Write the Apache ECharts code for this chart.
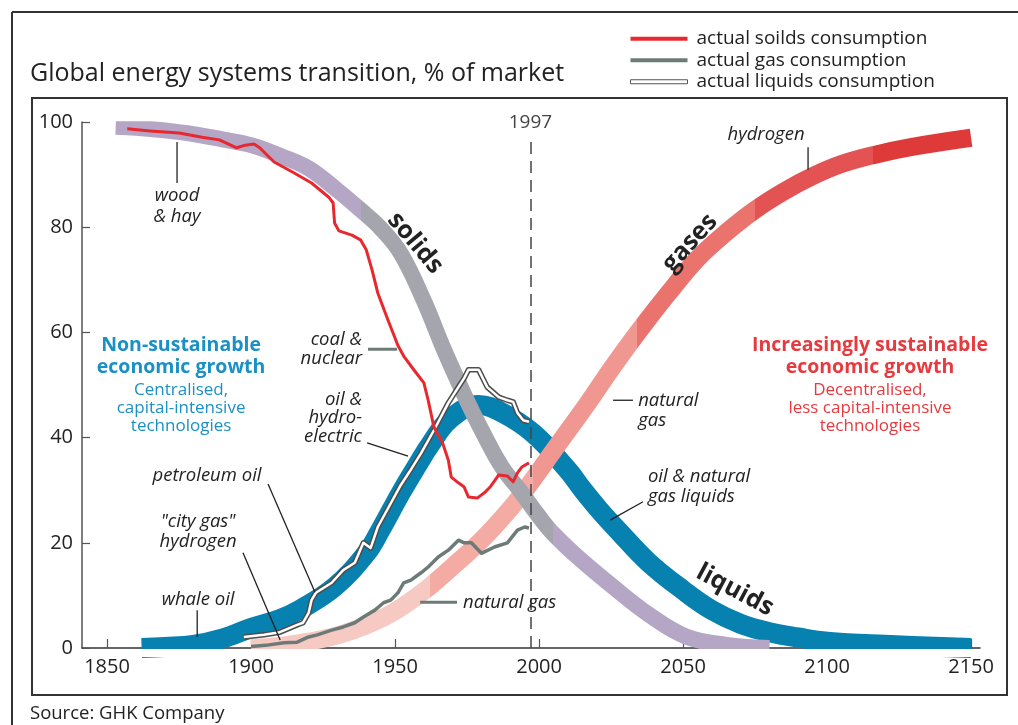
<!DOCTYPE html>
<html>
<head>
<meta charset="utf-8">
<script src="https://cdn.jsdelivr.net/npm/echarts@6/dist/echarts.min.js"></script>
<style>
html,body{margin:0;padding:0;background:#fff;}
#chart{width:1018px;height:725px;}
</style>
</head>
<body>
<div id="chart"></div>
<script>
// ---------- data (year, % of market) ----------
const xTickYears = [1850, 1900, 1950, 2000, 2050, 2100, 2150];

const solidsBand = [[1853,99.1],[1860,98.9],[1870,98.4],[1880,97.7],[1890,96.7],[1900,95.6],[1910,93.6],[1920,91.2],[1930,87],[1938,83.3],[1945,79.8],[1952,75],[1960,66],[1967,56.7],[1975,47],[1980,41.5],[1987,34.5],[1994,29.5],[2000,25],[2005,21.7],[2014,17],[2026,11.5],[2038,6.4],[2051,2.2],[2065,0.6],[2080,0]];

const liquidsBand = [[1862,0],[1870,0.2],[1880,0.6],[1890,1.8],[1900,3.8],[1910,5.5],[1917,7.3],[1929,11.6],[1940,18],[1945,22.5],[1952,29.5],[1958,35],[1962,38.5],[1969,43.5],[1979,46.2],[1987,44.8],[1998,40.8],[2010,33.8],[2015,30.2],[2021,26.2],[2028,22],[2038,16.3],[2050,11],[2060,7.2],[2070,4.6],[2080,3],[2090,2],[2100,1.2],[2120,0.6],[2150,0]];

const gasesBand = [[1900,0],[1910,0.4],[1920,1.2],[1930,2.4],[1940,4.3],[1950,7],[1960,10.8],[1970,15.5],[1980,20.5],[1990,26.5],[1997,31.4],[2005,37.5],[2017,46.6],[2025,53],[2035,60.5],[2045,67.5],[2055,74],[2065,79],[2075,83.3],[2085,86.8],[2095,89.7],[2105,92],[2116,93.7],[2130,95.3],[2150,97]];

const solidsActual = [[1857,98.7],[1865,98.3],[1875,97.9],[1883,97.1],[1889,96.6],[1895,95.1],[1898,95.6],[1901,95.8],[1903,95.1],[1908,92.4],[1915,90.3],[1921,88.4],[1927,85.7],[1928.5,84.6],[1929,80.8],[1930.5,79.3],[1935,78.5],[1938,77.6],[1940,75.7],[1942,71.9],[1944,67.5],[1947.5,62.4],[1951,57.5],[1953,55.5],[1956.5,52.9],[1960,50.4],[1961.5,47.1],[1963.5,42],[1966.5,39],[1968.5,35.7],[1969.5,32.5],[1972,31.4],[1974,30.6],[1975.5,28.7],[1978.5,28.5],[1981,29.5],[1983,30.6],[1986,32.9],[1989,32.7],[1991,31.6],[1992.5,33.3],[1994,34.4],[1996.5,35.2]];

const liquidsActual = [[1897.5,2.1],[1904.5,2.5],[1910,3],[1916,4.4],[1918,4.8],[1920,6.7],[1921,9.1],[1922.5,10.5],[1928,12.4],[1932,14.8],[1936,16.2],[1939,20],[1941.5,19],[1944,23],[1948,27],[1952,31],[1955,33.5],[1959,37],[1963.5,41.4],[1968.5,46.6],[1972,49.6],[1974,51.3],[1975.5,52.9],[1979,52.9],[1982,49.6],[1986,47.7],[1989,47.1],[1991,46.8],[1992.5,44.7],[1994.5,43.3],[1996.5,43]];

const gasActual = [[1900,0.3],[1905,0.5],[1911.5,1.0],[1916,1.1],[1920,2.1],[1923,2.5],[1928,3.4],[1932,4],[1936,4.8],[1939,5.9],[1943,7.2],[1946,8.6],[1948.5,9.1],[1951,10.5],[1953,12.4],[1955.5,12.9],[1959,14.3],[1961.5,15.4],[1965,17.3],[1968.5,18.6],[1972,20.5],[1974,20],[1976.5,20],[1980,18],[1984.5,19.2],[1989,20],[1992.5,22.4],[1995,23],[1996.5,22.8]];

const markerYear = 1997;

// ---------- style ----------
const FONT = '"Open Sans", "Noto Sans", sans-serif';
const C_PURPLE = '#b4a6c4', C_GREY = '#a4a5ad', C_BLUE = '#0681b0';
const C_RED = '#e8282e', C_GASLINE = '#6c7b77';

const chart = echarts.init(document.getElementById('chart'), null, {renderer:'canvas'});

const option = {
  animation: false,
  backgroundColor: '#fff',
  grid: {left: 82, top: 122, width: 898, height: 526},
  xAxis: {
    type: 'value', min: 1841.3, max: 2153.1,
    axisLine: {lineStyle: {color: '#333', width: 1.5}},
    axisTick: {inside: true, length: 9, customValues: xTickYears, lineStyle: {color: '#555', width: 1.2}},
    axisLabel: {customValues: xTickYears, fontSize: 20, color: '#222', margin: 9, fontFamily: FONT,
      formatter: v => String(Math.round(v))},
    splitLine: {show: false}
  },
  yAxis: {
    type: 'value', min: 0, max: 100, interval: 20,
    axisLine: {show: true, lineStyle: {color: '#555', width: 1.5}},
    axisTick: {show: true, inside: true, length: 8, lineStyle: {color: '#555', width: 1.2}},
    axisLabel: {fontSize: 20, color: '#222', margin: 9, fontFamily: FONT},
    splitLine: {show: false}
  },
  legend: {
    left: 625, top: 23, orient: 'vertical', itemWidth: 57, itemHeight: 4, itemGap: 0,
    selectedMode: false,
    textStyle: {fontSize: 19, color: '#222', fontFamily: FONT, lineHeight: 21.5, padding: [0,0,0,4]},
    data: [
      {name: 'actual soilds consumption', icon: 'rect', itemStyle: {color: C_RED}},
      {name: 'actual gas consumption', icon: 'rect', itemStyle: {color: C_GASLINE}},
      {name: 'actual liquids consumption', icon: 'rect', itemStyle: {color: '#fff', borderColor: '#555', borderWidth: 1}}
    ]
  },
  visualMap: [
    {type: 'piecewise', show: false, seriesIndex: 1, dimension: 0,
     pieces: [
       {lt: 1962, color: '#f6c9c3'},
       {gte: 1962, lt: 1998, color: '#f3aba4'},
       {gte: 1998, lt: 2034, color: '#ef9790'},
       {gte: 2034, lt: 2075, color: '#ea736e'},
       {gte: 2075, lt: 2116, color: '#e45353'},
       {gte: 2116, color: '#df3a3a'}
     ]},
    {type: 'piecewise', show: false, seriesIndex: 2, dimension: 0,
     pieces: [
       {lt: 1938, color: C_PURPLE},
       {gte: 1938, lt: 2005, color: C_GREY},
       {gte: 2005, color: C_PURPLE}
     ]}
  ],
  series: [
    {name: 'liquids', type: 'line', data: liquidsBand, smooth: 0.4, symbol: 'none', silent: true,
     lineStyle: {width: 20, color: C_BLUE, cap: 'butt', join: 'round'}, z: 1},
    {name: 'gases', type: 'line', data: gasesBand, smooth: 0.4, symbol: 'none', silent: true,
     lineStyle: {width: 18, cap: 'butt', join: 'round'}, z: 2},
    {name: 'solids', type: 'line', data: solidsBand, smooth: 0.4, symbol: 'none', silent: true,
     lineStyle: {width: 16, cap: 'butt', join: 'round'}, z: 3},
    {name: 'actual gas consumption', type: 'line', data: gasActual, symbol: 'none', silent: true,
     itemStyle: {color: C_GASLINE}, lineStyle: {width: 3.5, color: C_GASLINE, join: 'round'}, z: 4},
    {name: 'liquids outline', type: 'line', data: liquidsActual, symbol: 'none', silent: true,
     lineStyle: {width: 5.5, color: '#4d4d4d', join: 'round'}, z: 5},
    {name: 'actual liquids consumption', type: 'line', data: liquidsActual, symbol: 'none', silent: true,
     itemStyle: {color: '#fff'}, lineStyle: {width: 2.5, color: '#fff', join: 'round'}, z: 6},
    {name: 'actual soilds consumption', type: 'line', data: solidsActual, symbol: 'none', silent: true,
     itemStyle: {color: C_RED}, lineStyle: {width: 3, color: C_RED, join: 'round'}, z: 7,
     markLine: {
       silent: true, symbol: ['none', 'none'], animation: false,
       lineStyle: {type: [12, 7], color: '#444', width: 1.5},
       label: {show: false},
       data: [[{coord: [markerYear, 0]}, {coord: [markerYear, 97]}]]
     }}
  ]
};
chart.setOption(option);

// ---------- annotations placed in data coordinates ----------
const IT = 18.5;
const annotations = [
  {at: [1874.3, 84.0], text: 'wood\n& hay', align: 'center', style: 'italic', size: IT, lh: 21},
  {at: [1938.5, 56.8], text: 'coal &\nnuclear', align: 'right', style: 'italic', size: IT, lh: 18.5},
  {at: [1938.5, 43.7], text: 'oil &\nhydro-\nelectric', align: 'right', style: 'italic', size: IT, lh: 18.5},
  {at: [1884.7, 32.7], text: 'petroleum oil', align: 'center', style: 'italic', size: IT},
  {at: [1881.6, 22.1], text: '"city gas"\nhydrogen', align: 'center', style: 'italic', size: IT, lh: 20},
  {at: [1881.6, 9.1], text: 'whale oil', align: 'center', style: 'italic', size: IT},
  {at: [1973.6, 8.7], text: 'natural gas', align: 'left', style: 'italic', size: IT},
  {at: [2034.4, 45.2], text: 'natural\ngas', align: 'left', style: 'italic', size: IT, lh: 20},
  {at: [2037.8, 30.6], text: 'oil & natural\ngas liquids', align: 'left', style: 'italic', size: IT, lh: 20},
  {at: [2078.8, 97.5], text: 'hydrogen', align: 'center', style: 'italic', size: IT},
  {at: [1875.7, 55.5], text: 'Non-sustainable\neconomic growth', align: 'center', weight: 'bold', size: 19.5, color: '#1a90c4', lh: 22},
  {at: [1875.7, 45.6], text: 'Centralised,\ncapital-intensive\ntechnologies', align: 'center', size: 17, color: '#1a90c4', lh: 18},
  {at: [2114.9, 55.5], text: 'Increasingly sustainable\neconomic growth', align: 'center', weight: 'bold', size: 19.5, color: '#e63a3f', lh: 22},
  {at: [2114.9, 45.6], text: 'Decentralised,\nless capital-intensive\ntechnologies', align: 'center', size: 17, color: '#e63a3f', lh: 18},
  {at: [1957, 77], text: 'solids', align: 'center', weight: 'bold', size: 25, rot: -50},
  {at: [2052.4, 77], text: 'gases', align: 'center', weight: 'bold', size: 25, rot: 48},
  {at: [2068, 11], text: 'liquids', align: 'center', weight: 'bold', size: 25, rot: -28}
];
const pointers = [
  {from: [1874.3, 96.2], to: [1874.3, 88.4], color: '#222', width: 1.3},
  {from: [1940.6, 56.8], to: [1950.7, 56.8], color: C_GASLINE, width: 3},
  {from: [1940.3, 39.0], to: [1954.5, 36.5], color: '#222', width: 1.3},
  {from: [1905.9, 31.2], to: [1922.2, 10.6], color: '#222', width: 1.3},
  {from: [1897.2, 18.1], to: [1910.1, 1.5], color: '#222', width: 1.3},
  {from: [1881.3, 7.2], to: [1881.3, 2.1], color: '#222', width: 1.3},
  {from: [1958.7, 8.7], to: [1971.5, 8.7], color: C_GASLINE, width: 3},
  {from: [2025.7, 47.1], to: [2032.6, 47.1], color: '#222', width: 1.3},
  {from: [2036.1, 27.8], to: [2024.7, 24.3], color: '#222', width: 1.3},
  {from: [2093.4, 95.2], to: [2093.4, 90.9], color: '#222', width: 1.3}
];

const px = p => chart.convertToPixel({gridIndex: 0}, p);
const g = [];
// masks that trim the thick bands to the plotting rectangle
const gTop = px([1841.3, 100])[1], gBot = px([1841.3, 0])[1];
g.push({type: 'rect', z: 50, shape: {x: 84, y: 99.5, width: 922, height: gTop - 100.3}, style: {fill: '#fff'}});
g.push({type: 'rect', z: 50, shape: {x: 84, y: gBot + 0.9, width: 922, height: 8}, style: {fill: '#fff'}});
// frames
g.push({type: 'line', shape: {x1: 12, y1: 12, x2: 12, y2: 725}, style: {stroke: '#333', lineWidth: 2}, z: 100});
g.push({type: 'line', shape: {x1: 12, y1: 12, x2: 1018, y2: 12}, style: {stroke: '#333', lineWidth: 2}, z: 100});
g.push({type: 'rect', shape: {x: 32, y: 98, width: 975, height: 597}, style: {fill: 'none', stroke: '#333', lineWidth: 2}, z: 100});
// title & source
g.push({type: 'text', x: 30, y: 74, z: 100, style: {text: 'Global energy systems transition, % of market',
  font: 'normal 25px ' + FONT, fill: '#222', textAlign: 'left', align: 'left', textVerticalAlign: 'middle', verticalAlign: 'middle'}});
g.push({type: 'text', x: 30, y: 714, z: 100, style: {text: 'Source: GHK Company',
  font: 'normal 18.5px ' + FONT, fill: '#222', textAlign: 'left', align: 'left', textVerticalAlign: 'middle', verticalAlign: 'middle'}});
// marker year label above the dashed line
const mk = px([markerYear, 97]);
g.push({type: 'text', z: 95, x: mk[0], y: mk[1] - 15, style: {text: String(markerYear), font: 'normal 19px ' + FONT,
  fill: '#444', textAlign: 'center', align: 'center', textVerticalAlign: 'middle', verticalAlign: 'middle'}});

pointers.forEach(p => {
  const a = px(p.from), b = px(p.to);
  g.push({type: 'line', z: 90, shape: {x1: a[0], y1: a[1], x2: b[0], y2: b[1]}, style: {stroke: p.color, lineWidth: p.width}});
});
annotations.forEach(a => {
  const pt = px(a.at);
  const font = (a.style || 'normal') + ' ' + (a.weight || 'normal') + ' ' + a.size + 'px ' + FONT;
  g.push({type: 'text', z: 95, x: pt[0], y: pt[1], rotation: (a.rot || 0) * Math.PI / 180,
    style: {text: a.text, font: font, fill: a.color || '#222', lineHeight: a.lh || 20,
      textAlign: a.align, align: a.align, textVerticalAlign: 'middle', verticalAlign: 'middle'}});
});
chart.setOption({graphic: g});
</script>
</body>
</html>
